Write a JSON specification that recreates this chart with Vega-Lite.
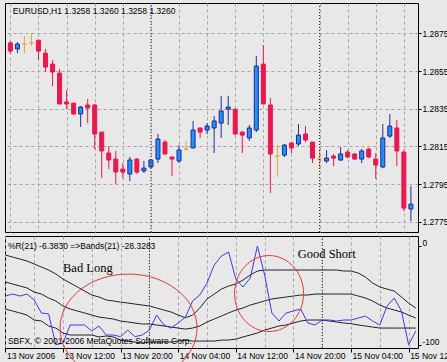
{
"$schema": "https://vega.github.io/schema/vega-lite/v6.json",
"background": "#e8e8e8",
"padding": {"left": 2, "top": 2, "right": 0, "bottom": 0},
"spacing": 2,
"config": {
  "view": {"stroke": "#000000", "strokeWidth": 1, "fill": "#e8e8e8"},
  "axis": {"labelFont": "Liberation Sans", "labelFontSize": 8.5, "labelColor": "#000000", "tickColor": "#000000", "domain": false, "title": null, "gridColor": "#a4a4a4", "gridDash": [3, 3], "gridWidth": 1},
  "text": {"font": "Liberation Sans", "color": "#000000"}
},
"datasets": {
  "bars": [
    {"t":"2006-11-13T04:00:00Z","o":1.28699,"h":1.28709,"l":1.28640,"c":1.28656,"r":-50.9,"u":-9.6,"m":-36.8,"lo":-64.0},
    {"t":"2006-11-13T05:00:00Z","o":1.28667,"h":1.28704,"l":1.28645,"c":1.28693,"r":-48.9,"u":-11.6,"m":-38.8,"lo":-66.0},
    {"t":"2006-11-13T06:00:00Z","o":1.28693,"h":1.28736,"l":1.28645,"c":1.28693,"r":-50.9,"u":-13.6,"m":-40.8,"lo":-68.0},
    {"t":"2006-11-13T07:00:00Z","o":1.28699,"h":1.28752,"l":1.28683,"c":1.28699,"r":-48.9,"u":-15.6,"m":-42.8,"lo":-70.1},
    {"t":"2006-11-13T08:00:00Z","o":1.28714,"h":1.28714,"l":1.28608,"c":1.28656,"r":-54.9,"u":-18.6,"m":-46.9,"lo":-75.1},
    {"t":"2006-11-13T09:00:00Z","o":1.28645,"h":1.28667,"l":1.28545,"c":1.28571,"r":-68.0,"u":-21.7,"m":-48.9,"lo":-76.1},
    {"t":"2006-11-13T10:00:00Z","o":1.28587,"h":1.28608,"l":1.28470,"c":1.28545,"r":-69.0,"u":-24.7,"m":-52.9,"lo":-81.1},
    {"t":"2006-11-13T11:00:00Z","o":1.28539,"h":1.28561,"l":1.28375,"c":1.28375,"r":-100,"u":-28.7,"m":-55.9,"lo":-83.2},
    {"t":"2006-11-13T12:00:00Z","o":1.28386,"h":1.28449,"l":1.28348,"c":1.28375,"r":-98.3,"u":-33.8,"m":-61.0,"lo":-88.2},
    {"t":"2006-11-13T13:00:00Z","o":1.28380,"h":1.28380,"l":1.28317,"c":1.28322,"r":-80.1,"u":-37.8,"m":-64.0,"lo":-90.2},
    {"t":"2006-11-13T14:00:00Z","o":1.28322,"h":1.28364,"l":1.28253,"c":1.28359,"r":-80.1,"u":-41.8,"m":-66.0,"lo":-90.2},
    {"t":"2006-11-13T15:00:00Z","o":1.28370,"h":1.28401,"l":1.28274,"c":1.28354,"r":-80.1,"u":-45.9,"m":-68.0,"lo":-90.2},
    {"t":"2006-11-13T16:00:00Z","o":1.28370,"h":1.28375,"l":1.28136,"c":1.28216,"r":-86.2,"u":-49.9,"m":-70.1,"lo":-90.2},
    {"t":"2006-11-13T17:00:00Z","o":1.28226,"h":1.28226,"l":1.27982,"c":1.28126,"r":-81.1,"u":-51.9,"m":-72.1,"lo":-92.2},
    {"t":"2006-11-13T18:00:00Z","o":1.28115,"h":1.28152,"l":1.28030,"c":1.28078,"r":-90.2,"u":-54.9,"m":-73.1,"lo":-91.2},
    {"t":"2006-11-13T19:00:00Z","o":1.28083,"h":1.28126,"l":1.27951,"c":1.28014,"r":-90.2,"u":-55.9,"m":-74.1,"lo":-92.2},
    {"t":"2006-11-13T20:00:00Z","o":1.28030,"h":1.28062,"l":1.27982,"c":1.28014,"r":-91.9,"u":-57.0,"m":-76.1,"lo":-95.3},
    {"t":"2006-11-13T21:00:00Z","o":1.28004,"h":1.28094,"l":1.27966,"c":1.28078,"r":-85.2,"u":-58.0,"m":-77.1,"lo":-96.3},
    {"t":"2006-11-13T22:00:00Z","o":1.28083,"h":1.28088,"l":1.28004,"c":1.28014,"r":-91.9,"u":-59.0,"m":-78.1,"lo":-97.3},
    {"t":"2006-11-13T23:00:00Z","o":1.28020,"h":1.28073,"l":1.28009,"c":1.28035,"r":-90.2,"u":-60.0,"m":-79.1,"lo":-98.3},
    {"t":"2006-11-14T00:00:00Z","o":1.28041,"h":1.28083,"l":1.28035,"c":1.28078,"r":-85.2,"u":-61.0,"m":-79.1,"lo":-97.3},
    {"t":"2006-11-14T01:00:00Z","o":1.28083,"h":1.28216,"l":1.28062,"c":1.28189,"r":-70.1,"u":-63.0,"m":-80.1,"lo":-97.3},
    {"t":"2006-11-14T02:00:00Z","o":1.28173,"h":1.28184,"l":1.28104,"c":1.28110,"r":-80.1,"u":-65.0,"m":-81.1,"lo":-97.3},
    {"t":"2006-11-14T03:00:00Z","o":1.28094,"h":1.28094,"l":1.27993,"c":1.28083,"r":-83.2,"u":-67.0,"m":-82.2,"lo":-97.3},
    {"t":"2006-11-14T04:00:00Z","o":1.28073,"h":1.28157,"l":1.28062,"c":1.28131,"r":-78.1,"u":-70.1,"m":-83.2,"lo":-96.3},
    {"t":"2006-11-14T05:00:00Z","o":1.28136,"h":1.28179,"l":1.28126,"c":1.28136,"r":-72.1,"u":-72.8,"m":-84.2,"lo":-95.6},
    {"t":"2006-11-14T06:00:00Z","o":1.28142,"h":1.28285,"l":1.28142,"c":1.28237,"r":-55.9,"u":-70.1,"m":-83.2,"lo":-96.3},
    {"t":"2006-11-14T07:00:00Z","o":1.28248,"h":1.28248,"l":1.28195,"c":1.28226,"r":-49.9,"u":-63.0,"m":-81.1,"lo":-96.3},
    {"t":"2006-11-14T08:00:00Z","o":1.28237,"h":1.28274,"l":1.28216,"c":1.28258,"r":-37.8,"u":-53.9,"m":-77.1,"lo":-96.3},
    {"t":"2006-11-14T09:00:00Z","o":1.28248,"h":1.28311,"l":1.28115,"c":1.28285,"r":-19.7,"u":-48.9,"m":-74.1,"lo":-96.3},
    {"t":"2006-11-14T10:00:00Z","o":1.28274,"h":1.28418,"l":1.28195,"c":1.28338,"r":-10.6,"u":-43.9,"m":-71.1,"lo":-95.3},
    {"t":"2006-11-14T11:00:00Z","o":1.28348,"h":1.28418,"l":1.28264,"c":1.28359,"r":-6.6,"u":-40.8,"m":-68.0,"lo":-95.3},
    {"t":"2006-11-14T12:00:00Z","o":1.28348,"h":1.28348,"l":1.28210,"c":1.28216,"r":-33.8,"u":-38.8,"m":-65.0,"lo":-94.3},
    {"t":"2006-11-14T13:00:00Z","o":1.28226,"h":1.28232,"l":1.28115,"c":1.28210,"r":-41.8,"u":-34.8,"m":-63.0,"lo":-92.2},
    {"t":"2006-11-14T14:00:00Z","o":1.28195,"h":1.28264,"l":1.28179,"c":1.28248,"r":-32.8,"u":-29.7,"m":-60.0,"lo":-90.2},
    {"t":"2006-11-14T15:00:00Z","o":1.28237,"h":1.28630,"l":1.28226,"c":1.28576,"r":-0.5,"u":-25.7,"m":-58.0,"lo":-88.2},
    {"t":"2006-11-14T16:00:00Z","o":1.28587,"h":1.28688,"l":1.28375,"c":1.28375,"r":-29.7,"u":-24.7,"m":-55.9,"lo":-85.2},
    {"t":"2006-11-14T17:00:00Z","o":1.28370,"h":1.28407,"l":1.27903,"c":1.28110,"r":-68.0,"u":-24.7,"m":-53.9,"lo":-83.2},
    {"t":"2006-11-14T18:00:00Z","o":1.28099,"h":1.28157,"l":1.27988,"c":1.28099,"r":-76.1,"u":-24.7,"m":-52.9,"lo":-81.1},
    {"t":"2006-11-14T19:00:00Z","o":1.28104,"h":1.28163,"l":1.28094,"c":1.28157,"r":-68.0,"u":-24.7,"m":-51.9,"lo":-80.1},
    {"t":"2006-11-14T20:00:00Z","o":1.28168,"h":1.28173,"l":1.28115,"c":1.28142,"r":-66.0,"u":-24.7,"m":-50.9,"lo":-78.1},
    {"t":"2006-11-14T21:00:00Z","o":1.28163,"h":1.28269,"l":1.28152,"c":1.28210,"r":-64.0,"u":-24.7,"m":-49.9,"lo":-76.1},
    {"t":"2006-11-14T22:00:00Z","o":1.28216,"h":1.28258,"l":1.28173,"c":1.28184,"r":-78.1,"u":-24.7,"m":-49.9,"lo":-75.1},
    {"t":"2006-11-14T23:00:00Z","o":1.28173,"h":1.28173,"l":1.28062,"c":1.28088,"r":-80.1,"u":-24.7,"m":-48.9,"lo":-75.1},
    {"t":"2006-11-15T00:00:00Z","o":1.28083,"h":1.28136,"l":1.28035,"c":1.28083,"r":-75.1,"u":-24.7,"m":-48.9,"lo":-75.1},
    {"t":"2006-11-15T01:00:00Z","o":1.28073,"h":1.28131,"l":1.28062,"c":1.28088,"r":-75.1,"u":-24.7,"m":-48.9,"lo":-76.1},
    {"t":"2006-11-15T02:00:00Z","o":1.28099,"h":1.28110,"l":1.28046,"c":1.28088,"r":-76.1,"u":-24.7,"m":-48.9,"lo":-77.1},
    {"t":"2006-11-15T03:00:00Z","o":1.28078,"h":1.28147,"l":1.28073,"c":1.28110,"r":-75.1,"u":-25.7,"m":-48.9,"lo":-78.1},
    {"t":"2006-11-15T04:00:00Z","o":1.28120,"h":1.28131,"l":1.28088,"c":1.28094,"r":-75.1,"u":-25.7,"m":-48.9,"lo":-78.8},
    {"t":"2006-11-15T05:00:00Z","o":1.28110,"h":1.28115,"l":1.28078,"c":1.28083,"r":-73.1,"u":-27.7,"m":-50.9,"lo":-80.1},
    {"t":"2006-11-15T06:00:00Z","o":1.28083,"h":1.28136,"l":1.28062,"c":1.28126,"r":-71.1,"u":-31.8,"m":-52.9,"lo":-81.1},
    {"t":"2006-11-15T07:00:00Z","o":1.28136,"h":1.28142,"l":1.28088,"c":1.28094,"r":-76.1,"u":-37.8,"m":-55.9,"lo":-82.2},
    {"t":"2006-11-15T08:00:00Z","o":1.28083,"h":1.28115,"l":1.27977,"c":1.28051,"r":-80.1,"u":-41.8,"m":-60.0,"lo":-83.2},
    {"t":"2006-11-15T09:00:00Z","o":1.28041,"h":1.28269,"l":1.28035,"c":1.28195,"r":-61.0,"u":-43.9,"m":-63.0,"lo":-83.2},
    {"t":"2006-11-15T10:00:00Z","o":1.28205,"h":1.28322,"l":1.28195,"c":1.28258,"r":-52.9,"u":-45.9,"m":-65.0,"lo":-83.2},
    {"t":"2006-11-15T11:00:00Z","o":1.28248,"h":1.28290,"l":1.28046,"c":1.28126,"r":-66.0,"u":-51.9,"m":-67.0,"lo":-83.2},
    {"t":"2006-11-15T12:00:00Z","o":1.28120,"h":1.28131,"l":1.27807,"c":1.27823,"r":-100,"u":-58.0,"m":-70.1,"lo":-83.2},
    {"t":"2006-11-15T13:00:00Z","o":1.27818,"h":1.27940,"l":1.27754,"c":1.27844,"r":-86.2,"u":-63.0,"m":-73.1,"lo":-83.2}
  ]
},
"resolve": {"scale": {"x": "independent", "y": "independent"}},
"vconcat": [
  {
    "width": 413,
    "height": 229,
    "data": {"name": "bars"},
    "encoding": {
      "x": {"field": "t", "type": "temporal",
        "scale": {"type": "utc", "domain": [{"year":2006,"month":11,"date":13,"hours":3,"minutes":56,"seconds":40,"utc":true},{"year":2006,"month":11,"date":15,"hours":13,"minutes":18,"utc":true}]},
        "axis": {"values": [
          {"year":2006,"month":11,"date":13,"hours":4,"utc":true},{"year":2006,"month":11,"date":13,"hours":8,"utc":true},{"year":2006,"month":11,"date":13,"hours":12,"utc":true},{"year":2006,"month":11,"date":13,"hours":16,"utc":true},{"year":2006,"month":11,"date":13,"hours":20,"utc":true},
          {"year":2006,"month":11,"date":14,"hours":0,"utc":true},{"year":2006,"month":11,"date":14,"hours":4,"utc":true},{"year":2006,"month":11,"date":14,"hours":8,"utc":true},{"year":2006,"month":11,"date":14,"hours":12,"utc":true},{"year":2006,"month":11,"date":14,"hours":16,"utc":true},{"year":2006,"month":11,"date":14,"hours":20,"utc":true},
          {"year":2006,"month":11,"date":15,"hours":0,"utc":true},{"year":2006,"month":11,"date":15,"hours":4,"utc":true},{"year":2006,"month":11,"date":15,"hours":8,"utc":true},{"year":2006,"month":11,"date":15,"hours":12,"utc":true}],
          "labels": false, "ticks": false, "domain": false, "grid": true, "title": null}
      }
    },
    "layer": [
      {
        "mark": {"type": "rule", "strokeWidth": 1},
        "encoding": {
          "y": {"field": "l", "type": "quantitative", "title": null, "scale": {"domain": [1.27696, 1.28911], "zero": false, "nice": false},
            "axis": {"orient": "right", "values": [1.2775, 1.2795, 1.2815, 1.2835, 1.2855, 1.2875], "format": ".4f", "grid": true, "tickSize": 3, "labelPadding": 1, "title": null, "domain": false}},
          "y2": {"field": "h"},
          "color": {"condition": [{"test": "datum.c > datum.o", "value": "#2a2a9a"}, {"test": "datum.c < datum.o", "value": "#e8194f"}], "value": "#eba33a"}
        }
      },
      {
        "mark": {"type": "bar", "size": 4, "strokeWidth": 1},
        "encoding": {
          "y": {"field": "o", "type": "quantitative", "title": null, "scale": {"domain": [1.27696, 1.28911], "zero": false, "nice": false},
            "axis": {"orient": "right", "values": [1.2775, 1.2795, 1.2815, 1.2835, 1.2855, 1.2875], "format": ".4f", "grid": true, "tickSize": 3, "labelPadding": 1, "title": null, "domain": false}},
          "y2": {"field": "c"},
          "fill": {"condition": [{"test": "datum.c > datum.o", "value": "#1e90ff"}, {"test": "datum.c < datum.o", "value": "#e8194f"}], "value": "#eba33a"},
          "stroke": {"condition": [{"test": "datum.c > datum.o", "value": "#1c2a8c"}, {"test": "datum.c < datum.o", "value": "#e8194f"}], "value": "#eba33a"}
        }
      },
      {
        "data": {"values": [{"t": "2006-11-14T00:00:00Z"}, {"t": "2006-11-15T00:00:00Z"}]},
        "mark": {"type": "rule", "color": "#222222", "strokeDash": [1, 2], "strokeWidth": 1},
        "encoding": {}
      },
      {
        "data": {"values": [{"t": "2006-11-13T04:21:00Z", "p": 1.28867, "label": "EURUSD,H1  1.3258 1.3260 1.3258 1.3260"}]},
        "mark": {"type": "text", "align": "left", "baseline": "middle", "fontSize": 8.5, "font": "Liberation Sans"},
        "encoding": {
          "y": {"field": "p", "type": "quantitative", "title": null, "scale": {"domain": [1.27696, 1.28911], "zero": false, "nice": false},
            "axis": {"orient": "right", "values": [1.2775, 1.2795, 1.2815, 1.2835, 1.2855, 1.2875], "format": ".4f", "grid": true, "tickSize": 3, "labelPadding": 1, "title": null, "domain": false}},
          "text": {"field": "label"}
        }
      }
    ]
  },
  {
    "width": 413,
    "height": 112,
    "data": {"name": "bars"},
    "encoding": {
      "x": {"field": "t", "type": "temporal",
        "scale": {"type": "utc", "domain": [{"year":2006,"month":11,"date":13,"hours":3,"minutes":56,"seconds":40,"utc":true},{"year":2006,"month":11,"date":15,"hours":13,"minutes":18,"utc":true}]},
        "axis": {"values": [
          {"year":2006,"month":11,"date":13,"hours":4,"utc":true},{"year":2006,"month":11,"date":13,"hours":8,"utc":true},{"year":2006,"month":11,"date":13,"hours":12,"utc":true},{"year":2006,"month":11,"date":13,"hours":16,"utc":true},{"year":2006,"month":11,"date":13,"hours":20,"utc":true},
          {"year":2006,"month":11,"date":14,"hours":0,"utc":true},{"year":2006,"month":11,"date":14,"hours":4,"utc":true},{"year":2006,"month":11,"date":14,"hours":8,"utc":true},{"year":2006,"month":11,"date":14,"hours":12,"utc":true},{"year":2006,"month":11,"date":14,"hours":16,"utc":true},{"year":2006,"month":11,"date":14,"hours":20,"utc":true},
          {"year":2006,"month":11,"date":15,"hours":0,"utc":true},{"year":2006,"month":11,"date":15,"hours":4,"utc":true},{"year":2006,"month":11,"date":15,"hours":8,"utc":true},{"year":2006,"month":11,"date":15,"hours":12,"utc":true}],
          "grid": true, "ticks": true, "tickSize": 4,
          "tickOpacity": {"condition": {"test": "utchours(datum.value) % 8 == 4", "value": 1}, "value": 0},
          "labelExpr": "(utcdate(datum.value) == 13 && utchours(datum.value) == 4) ? '13 Nov 2006' : (utchours(datum.value) % 8 == 4 ? utcFormat(datum.value, '%d %b %H:%M') : '')",
          "labelAlign": "left", "labelBaseline": "top", "labelPadding": -1, "labelOffset": 1,
          "labelFlush": false, "labelOverlap": false, "domain": false, "title": null}
      }
    },
    "layer": [
      {
        "mark": {"type": "line", "color": "#222222", "strokeWidth": 1},
        "encoding": {
          "y": {"field": "u", "type": "quantitative", "title": null, "scale": {"domain": [-103.3, 9.6], "zero": false, "nice": false},
            "axis": {"orient": "right", "values": [0, -100], "labelExpr": "datum.value == 0 ? '0' : '-100'", "tickSize": 3, "labelPadding": 1, "labelOffset": -3, "grid": false, "title": null, "domain": false}}
        }
      },
      {
        "mark": {"type": "line", "color": "#222222", "strokeWidth": 1},
        "encoding": {"y": {"field": "m", "type": "quantitative", "title": null, "scale": {"domain": [-103.3, 9.6], "zero": false, "nice": false},
            "axis": {"orient": "right", "values": [0, -100], "labelExpr": "datum.value == 0 ? '0' : '-100'", "tickSize": 3, "labelPadding": 1, "labelOffset": -3, "grid": false, "title": null, "domain": false}}}
      },
      {
        "mark": {"type": "line", "color": "#222222", "strokeWidth": 1},
        "encoding": {"y": {"field": "lo", "type": "quantitative", "title": null, "scale": {"domain": [-103.3, 9.6], "zero": false, "nice": false},
            "axis": {"orient": "right", "values": [0, -100], "labelExpr": "datum.value == 0 ? '0' : '-100'", "tickSize": 3, "labelPadding": 1, "labelOffset": -3, "grid": false, "title": null, "domain": false}}}
      },
      {
        "mark": {"type": "line", "color": "#3b3be6", "strokeWidth": 1},
        "encoding": {"y": {"field": "r", "type": "quantitative", "title": null, "scale": {"domain": [-103.3, 9.6], "zero": false, "nice": false},
            "axis": {"orient": "right", "values": [0, -100], "labelExpr": "datum.value == 0 ? '0' : '-100'", "tickSize": 3, "labelPadding": 1, "labelOffset": -3, "grid": false, "title": null, "domain": false}}}
      },
      {
        "data": {"values": [{"t": "2006-11-14T00:00:00Z"}, {"t": "2006-11-15T00:00:00Z"}]},
        "mark": {"type": "rule", "color": "#222222", "strokeDash": [1, 2], "strokeWidth": 1},
        "encoding": {}
      },
      {
        "data": {"values": [
          {"t": "2006-11-13T04:21:00Z", "v": -0.5, "label": "%R(21) -6.3830  =>Bands(21) -28.3283"},
          {"t": "2006-11-13T04:21:00Z", "v": -96.3, "label": "SBFX, © 2001-2006 MetaQuotes Software Corp."}
        ]},
        "mark": {"type": "text", "align": "left", "baseline": "middle", "fontSize": 8.5, "font": "Liberation Sans"},
        "encoding": {
          "y": {"field": "v", "type": "quantitative", "title": null, "scale": {"domain": [-103.3, 9.6], "zero": false, "nice": false},
            "axis": {"orient": "right", "values": [0, -100], "labelExpr": "datum.value == 0 ? '0' : '-100'", "tickSize": 3, "labelPadding": 1, "labelOffset": -3, "grid": false, "title": null, "domain": false}},
          "text": {"field": "label"}
        }
      },
      {
        "data": {"values": [
          {"t": "2006-11-13T12:00:00Z", "v": -22.7, "label": "Bad Long"},
          {"t": "2006-11-14T20:36:00Z", "v": -8.1, "label": "Good Short"}
        ]},
        "mark": {"type": "text", "align": "left", "baseline": "middle", "fontSize": 12.5, "font": "Liberation Serif"},
        "encoding": {
          "y": {"field": "v", "type": "quantitative", "title": null, "scale": {"domain": [-103.3, 9.6], "zero": false, "nice": false},
            "axis": {"orient": "right", "values": [0, -100], "labelExpr": "datum.value == 0 ? '0' : '-100'", "tickSize": 3, "labelPadding": 1, "labelOffset": -3, "grid": false, "title": null, "domain": false}},
          "text": {"field": "label"}
        }
      },
      {
        "data": {"values": [{"t": "2006-11-13T21:06:00Z", "v": -83.2}]},
        "mark": {"type": "point", "shape": "M-6.85,0C-6.85,-2.982,-3.783,-5.4,0,-5.4C3.783,-5.4,6.85,-2.982,6.85,0C6.85,2.982,3.783,5.4,0,5.4C-3.783,5.4,-6.85,2.982,-6.85,0Z", "size": 400, "filled": false, "color": "#e03a3a", "strokeWidth": 1, "opacity": 1},
        "encoding": {"y": {"field": "v", "type": "quantitative", "title": null, "scale": {"domain": [-103.3, 9.6], "zero": false, "nice": false},
            "axis": {"orient": "right", "values": [0, -100], "labelExpr": "datum.value == 0 ? '0' : '-100'", "tickSize": 3, "labelPadding": 1, "labelOffset": -3, "grid": false, "title": null, "domain": false}}}
      },
      {
        "data": {"values": [{"t": "2006-11-14T16:37:00Z", "v": -48.4}]},
        "mark": {"type": "point", "shape": "M-3.45,0C-3.45,-2.099,-1.905,-3.8,0,-3.8C1.905,-3.8,3.45,-2.099,3.45,0C3.45,2.099,1.905,3.8,0,3.8C-1.905,3.8,-3.45,2.099,-3.45,0Z", "size": 400, "filled": false, "color": "#e03a3a", "strokeWidth": 1, "opacity": 1},
        "encoding": {"y": {"field": "v", "type": "quantitative", "title": null, "scale": {"domain": [-103.3, 9.6], "zero": false, "nice": false},
            "axis": {"orient": "right", "values": [0, -100], "labelExpr": "datum.value == 0 ? '0' : '-100'", "tickSize": 3, "labelPadding": 1, "labelOffset": -3, "grid": false, "title": null, "domain": false}}}
      }
    ]
  }
]
}
